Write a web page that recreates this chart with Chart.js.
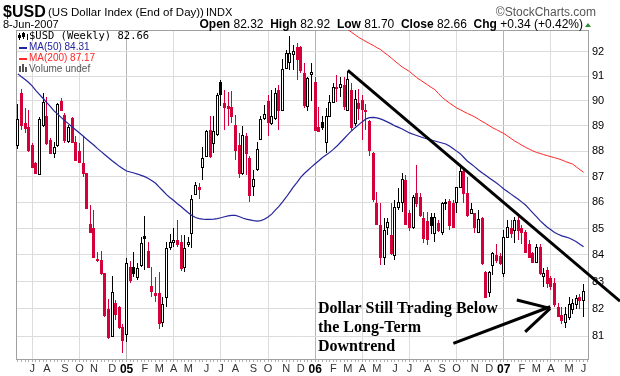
<!DOCTYPE html>
<html>
<head>
<meta charset="utf-8">
<script src="https://cdn.jsdelivr.net/npm/chart.js@4.4.0/dist/chart.umd.min.js"></script>
<style>
  html, body { margin: 0; padding: 0; background: #fff; }
  #wrap { width: 620px; height: 376px; }
</style>
</head>
<body>
<div id="wrap"><canvas id="chart" width="620" height="376"></canvas></div>
<script>
// weekly bars, first bar is the week ending Fri 11-Jun-2004, last is 8-Jun-2007
const firstWeek = [2004, 5, 11];

const opens = [
  88.25, 90.31, 89.11, 88.97, 88.25, 87.52, 87.10, 89.04, 89.38, 88.44,
  87.94, 88.25, 90.00, 89.44, 88.41, 89.31, 88.38, 88.00, 87.52, 87.13,
  85.19, 85.00, 83.86, 83.81, 83.31, 82.00, 81.00, 82.19, 82.07, 81.33,
  81.09, 83.56, 83.56, 83.18, 83.62, 84.70, 84.16, 82.84, 82.56, 82.56,
  81.52, 82.44, 84.31, 84.50, 84.56, 84.50, 83.56, 84.40, 84.81, 86.32,
  86.61, 87.39, 87.79, 88.84, 88.31, 88.68, 90.75, 89.90, 89.78, 89.75,
  89.04, 88.25, 87.13, 88.58, 87.72, 86.65, 87.28, 88.47, 89.31, 90.00,
  89.11, 89.31, 90.45, 89.62, 91.33, 91.60, 91.91, 92.22, 92.20, 91.15,
  89.80, 91.08, 90.78, 88.97, 89.14, 88.38, 89.40, 89.97, 90.58, 90.58,
  90.65, 89.62, 90.45, 89.11, 89.91, 90.02, 89.62, 89.21, 87.91, 85.99,
  85.13, 83.93, 85.07, 84.75, 84.00, 85.83, 86.00, 86.85, 85.60, 85.07,
  86.35, 86.22, 85.39, 85.30, 85.45, 84.81, 85.22, 84.88, 85.96, 86.06,
  85.99, 86.03, 86.61, 87.20, 86.35, 85.61, 85.61, 84.88, 85.39, 83.37,
  82.62, 83.62, 84.00, 83.96, 83.31, 84.69, 85.00, 84.94, 85.32, 85.00,
  84.88, 84.43, 84.06, 83.74, 84.31, 83.21, 83.43, 83.12, 82.93, 82.07,
  81.76, 81.52, 81.70, 82.00, 82.16, 82.44, 82.32
];
const highs = [
  89.88, 90.47, 89.71, 89.64, 88.31, 87.59, 89.35, 90.34, 90.18, 88.51,
  88.38, 89.93, 90.11, 89.51, 89.04, 89.35, 88.61, 88.31, 88.58, 87.16,
  85.90, 85.71, 84.12, 84.15, 83.33, 82.34, 83.21, 82.31, 82.09, 81.45,
  83.87, 83.77, 84.12, 83.68, 84.69, 85.48, 84.50, 83.56, 83.18, 83.37,
  82.44, 84.50, 84.78, 85.00, 85.32, 84.75, 84.75, 84.69, 86.28, 86.80,
  86.74, 88.18, 88.84, 89.40, 89.40, 90.31, 90.85, 90.45, 90.38, 90.40,
  89.44, 88.70, 89.00, 88.71, 87.79, 87.26, 88.38, 89.40, 89.84, 90.25,
  90.45, 90.51, 90.65, 91.73, 92.08, 92.66, 92.29, 92.36, 92.25, 91.53,
  90.98, 91.53, 90.98, 89.75, 89.40, 89.71, 90.25, 90.72, 91.05, 90.98,
  90.98, 91.23, 90.72, 90.45, 90.47, 90.25, 89.86, 89.24, 87.98, 86.41,
  85.96, 85.39, 85.39, 85.96, 86.09, 86.54, 87.13, 87.07, 85.70, 86.28,
  87.45, 86.35, 85.64, 85.64, 85.61, 85.61, 85.32, 86.03, 86.15, 86.15,
  86.09, 86.61, 87.39, 87.26, 86.97, 85.96, 85.61, 85.71, 85.45, 83.40,
  83.40, 84.12, 84.43, 84.06, 84.94, 85.32, 85.32, 85.45, 85.45, 85.13,
  84.94, 84.56, 84.12, 84.43, 84.40, 83.50, 83.56, 83.20, 83.12, 82.19,
  82.07, 82.07, 82.44, 82.34, 82.50, 82.55, 82.92
];
const lows = [
  88.07, 88.84, 88.71, 87.98, 87.36, 87.10, 87.07, 88.95, 88.25, 87.91,
  87.72, 88.18, 89.58, 88.31, 88.31, 88.31, 87.62, 87.52, 87.00, 85.74,
  84.81, 83.87, 83.74, 83.25, 81.70, 80.91, 80.97, 81.58, 81.27, 80.40,
  80.79, 82.93, 83.18, 83.06, 83.56, 83.43, 83.50, 82.44, 82.25, 81.27,
  81.33, 82.07, 84.18, 84.31, 84.30, 83.40, 83.37, 84.31, 84.25, 86.28,
  86.15, 86.87, 87.79, 87.72, 87.91, 88.61, 89.78, 88.84, 89.00, 89.10,
  87.65, 86.95, 87.07, 87.05, 86.03, 86.25, 87.20, 88.44, 89.24, 88.58,
  89.04, 89.24, 88.84, 89.58, 91.28, 91.25, 91.25, 90.85, 91.12, 89.71,
  89.58, 90.00, 88.78, 88.78, 88.84, 87.91, 89.35, 89.93, 89.97, 90.18,
  89.64, 89.58, 88.84, 89.00, 89.24, 88.44, 88.84, 87.79, 86.03, 85.13,
  83.62, 83.62, 84.75, 84.00, 83.81, 85.71, 85.64, 85.13, 84.90, 84.98,
  85.83, 85.45, 84.44, 84.37, 84.80, 84.50, 84.88, 84.75, 85.70, 84.94,
  85.00, 85.58, 86.54, 85.96, 85.45, 85.58, 84.81, 84.81, 83.62, 82.38,
  82.44, 83.25, 83.68, 83.62, 83.18, 84.63, 84.63, 84.44, 84.56, 84.40,
  84.06, 83.90, 83.68, 83.68, 83.25, 82.80, 82.75, 82.70, 82.07, 81.68,
  81.45, 81.30, 81.58, 81.79, 81.97, 82.00, 81.70
];
const closes = [
  89.27, 89.04, 88.91, 88.05, 87.39, 87.13, 89.27, 89.97, 88.31, 87.94,
  88.18, 89.88, 89.64, 88.44, 88.97, 88.38, 87.65, 87.59, 87.13, 85.77,
  84.88, 83.93, 83.80, 83.31, 81.76, 80.97, 82.62, 81.82, 81.33, 80.85,
  83.71, 83.06, 83.31, 83.50, 84.46, 84.64, 83.56, 82.66, 82.50, 81.49,
  82.16, 84.25, 84.50, 84.56, 84.40, 83.50, 84.25, 84.50, 86.15, 86.67,
  86.51, 87.72, 88.78, 87.79, 88.78, 90.25, 90.28, 89.75, 89.70, 89.38,
  88.05, 87.13, 88.64, 87.92, 86.28, 86.90, 88.07, 89.27, 89.47, 89.14,
  89.40, 90.31, 89.62, 91.28, 91.94, 91.96, 92.05, 91.69, 91.26, 89.84,
  90.92, 91.19, 88.84, 88.80, 88.97, 89.40, 89.97, 90.58, 90.51, 90.69,
  89.78, 90.88, 88.97, 90.07, 89.71, 89.68, 89.58, 88.05, 86.15, 85.19,
  83.93, 84.94, 85.26, 84.06, 85.83, 86.03, 86.90, 85.19, 85.05, 86.22,
  85.96, 85.51, 84.63, 84.60, 85.13, 85.45, 84.94, 85.99, 86.03, 85.13,
  85.07, 86.61, 87.20, 86.35, 85.51, 85.74, 85.07, 85.35, 83.68, 82.44,
  83.37, 84.09, 83.81, 83.68, 84.69, 85.07, 84.81, 85.32, 84.94, 84.88,
  84.12, 83.93, 83.74, 84.31, 83.31, 83.33, 82.93, 82.85, 82.16, 81.73,
  81.58, 81.79, 82.16, 82.20, 82.38, 82.32, 82.66
];

const ma50 = [
  91.10, 90.98, 90.87, 90.75, 90.60, 90.42, 90.26, 90.10, 89.93, 89.77,
  89.60, 89.47, 89.33, 89.20, 89.08, 88.96, 88.84, 88.72, 88.60, 88.47,
  88.35, 88.23, 88.10, 87.98, 87.86, 87.74, 87.62, 87.51, 87.40, 87.31,
  87.22, 87.18, 87.14, 87.10, 87.05, 87.00, 86.93, 86.84, 86.74, 86.59,
  86.45, 86.30, 86.18, 86.07, 85.95, 85.84, 85.72, 85.60, 85.50, 85.42,
  85.38, 85.36, 85.35, 85.35, 85.36, 85.38, 85.41, 85.45, 85.48, 85.50,
  85.50, 85.46, 85.40, 85.36, 85.33, 85.30, 85.28, 85.30, 85.35, 85.44,
  85.55, 85.70, 85.85, 86.02, 86.20, 86.40, 86.60, 86.78, 86.97, 87.12,
  87.25, 87.38, 87.50, 87.62, 87.75, 87.85, 87.95, 88.07, 88.20, 88.35,
  88.50, 88.65, 88.80, 88.93, 89.05, 89.17, 89.28, 89.33, 89.34, 89.32,
  89.28, 89.22, 89.15, 89.08, 89.00, 88.94, 88.88, 88.80, 88.72, 88.67,
  88.62, 88.57, 88.52, 88.48, 88.44, 88.40, 88.36, 88.32, 88.28, 88.20,
  88.10, 88.00, 87.90, 87.75, 87.60, 87.49, 87.38, 87.26, 87.15, 87.05,
  86.95, 86.85, 86.75, 86.64, 86.52, 86.42, 86.32, 86.22, 86.12, 86.01,
  85.90, 85.75, 85.60, 85.45, 85.30, 85.17, 85.05, 84.95, 84.85, 84.78,
  84.72, 84.68, 84.64, 84.57, 84.50, 84.40, 84.31
];
// MA(200) is above the chart until about week 91
const ma200Visible = [
  92.93, 92.82, 92.71, 92.60, 92.52, 92.43, 92.35, 92.27, 92.18, 92.10,
  91.98, 91.87, 91.75, 91.62, 91.50, 91.38, 91.29, 91.20, 91.07, 90.95,
  90.85, 90.75, 90.65, 90.55, 90.46, 90.30, 90.15, 90.03, 89.92, 89.82,
  89.72, 89.65, 89.57, 89.50, 89.43, 89.36, 89.27, 89.18, 89.10, 89.01,
  88.92, 88.85, 88.77, 88.70, 88.60, 88.50, 88.40, 88.32, 88.23, 88.15,
  88.08, 88.01, 87.95, 87.91, 87.86, 87.82, 87.78, 87.74, 87.70, 87.65,
  87.59, 87.54, 87.49, 87.38, 87.27, 87.17
];
const ma200 = new Array(closes.length - ma200Visible.length).fill(null).concat(ma200Visible);

const priceTicks = [81, 82, 83, 84, 85, 86, 87, 88, 89, 90, 91, 92];
const monthLetters = ['J', 'F', 'M', 'A', 'M', 'J', 'J', 'A', 'S', 'O', 'N', 'D'];

// hand drawn lines, in (week index, price)
const trendLine = [[91, 91.24], [146, 84.58]];
const arrowLines = [
  [[120.1, 80.73], [146.8, 82.07]],
  [[137.6, 82.32], [146.8, 82.01]],
  [[139.9, 81.15], [146.8, 82.01]]
];
const noteLines = ['Dollar Still Trading Below', 'the Long-Term', 'Downtrend'];

const RED = '#d4003a';
const BLUE = '#24249c';
const MA_RED = '#ff2626';

// one extra empty week on the right like the original
const weeks = [];
for (let i = 0; i <= closes.length; i++) {
  weeks.push(new Date(firstWeek[0], firstWeek[1], firstWeek[2] + 7 * i));
}
const labels = weeks.map(d => d.toISOString().slice(0, 10));

function mondayOf(d) {
  return new Date(d.getFullYear(), d.getMonth(), d.getDate() - 4);
}
const monthOf = weeks.map(d => mondayOf(d).getMonth());
const tickText = weeks.map((d, i) => {
  if (i === 0 || monthOf[i] === monthOf[i - 1]) return '';
  if (monthOf[i] === 0) return String(mondayOf(d).getFullYear() % 100).padStart(2, '0');
  return monthLetters[monthOf[i]];
});

const isUp = closes.map((c, i) => i === 0 || c >= closes[i - 1]);
const candleColor = isUp.map(u => u ? '#000' : RED);
const hollow = closes.map((c, i) => c > opens[i]);
const bodies = closes.map((c, i) => [Math.min(opens[i], c), Math.max(opens[i], c)]);
const wicks = closes.map((c, i) => [lows[i], highs[i]]);

// bars are laid out by chart.js; here they are only painted on whole pixels
const crispCandles = {
  id: 'crispCandles',
  beforeDatasetDraw(chart, args) {
    const meta = args.meta;
    if (meta.type !== 'bar') return;
    const kind = chart.data.datasets[args.index].label;
    const c = chart.ctx;
    c.save();
    meta.data.forEach((el, i) => {
      const p = el.getProps(['x', 'y', 'base'], true);
      if (p.y == null || isNaN(p.y)) return;
      const top = Math.round(Math.min(p.y, p.base));
      const h = Math.max(1, Math.round(Math.max(p.y, p.base)) - top);
      const cx = Math.round(p.x - 0.5);
      c.fillStyle = candleColor[i];
      if (kind === 'wick') {
        c.fillRect(cx, top, 1, h);
      } else {
        c.fillRect(cx - 1, top, 3, h + 1);
        if (hollow[i] && h > 1) {
          c.fillStyle = '#fff';
          c.fillRect(cx, top + 1, 1, h - 1);
        }
      }
    });
    c.restore();
    return false;
  }
};

const decor = {
  id: 'decor',
  beforeDatasetsDraw(chart) {
    const { ctx, chartArea: a } = chart;
    ctx.save();
    ctx.strokeStyle = '#a0a0a0';
    ctx.lineWidth = 1;
    ctx.strokeRect(Math.round(a.left) + 0.5, Math.round(a.top) + 0.5,
      Math.round(a.right - a.left) - 1, Math.round(a.bottom - a.top));
    ctx.restore();
  },
  afterDraw(chart) {
    const { ctx, chartArea: a, scales } = chart;
    const xs = scales.x, ys = scales.y;
    const pt = p => [xs.getPixelForValue(p[0]), ys.getPixelForValue(p[1])];
    ctx.save();

    // header
    ctx.fillStyle = '#000';
    ctx.textBaseline = 'alphabetic';
    ctx.font = 'bold 16px "Liberation Sans", Arial';
    ctx.fillText('$USD', 3, 17);
    ctx.font = '11.5px "Liberation Sans", Arial';
    ctx.fillText('(US Dollar Index (End of Day))', 48, 16);
    ctx.font = '11px "Liberation Sans", Arial';
    ctx.fillText('INDX', 206, 16);
    ctx.fillStyle = '#555';
    ctx.font = '12px "Liberation Sans", Arial';
    ctx.textAlign = 'right';
    ctx.fillText('\u00a9StockCharts.com', 596, 16);
    ctx.textAlign = 'left';
    ctx.fillStyle = '#000';
    ctx.font = '11px "Liberation Sans", Arial';
    ctx.fillText('8-Jun-2007', 3, 28);

    const stats = [['Open', ' 82.32  '], ['High', ' 82.92  '], ['Low', ' 81.70  '],
      ['Close', ' 82.66  '], ['Chg', ' +0.34 (+0.42%)']];
    const boldF = 'bold 12px "Liberation Sans", Arial';
    const normF = '12px "Liberation Sans", Arial';
    let w = 0;
    stats.forEach(s => {
      ctx.font = boldF; w += ctx.measureText(s[0]).width;
      ctx.font = normF; w += ctx.measureText(s[1]).width;
    });
    let x = 583 - w;
    stats.forEach(s => {
      ctx.font = boldF; ctx.fillText(s[0], x, 28); x += ctx.measureText(s[0]).width;
      ctx.font = normF; ctx.fillText(s[1], x, 28); x += ctx.measureText(s[1]).width;
    });
    ctx.fillStyle = '#2e8b2e';
    ctx.beginPath();
    ctx.moveTo(585, 27); ctx.lineTo(591, 27); ctx.lineTo(588, 23); ctx.closePath();
    ctx.fill();

    // legend
    ctx.fillStyle = '#000';
    ctx.fillRect(19, 33, 1, 7); ctx.fillRect(18, 35, 3, 3);
    ctx.fillRect(23, 32, 1, 7); ctx.fillRect(22, 33, 3, 4);
    ctx.fillRect(27, 34, 1, 6);
    ctx.textBaseline = 'middle';
    ctx.font = '10.5px "DejaVu Sans Mono", monospace';
    ctx.fillText('$USD (Weekly) 82.66', 29, 36.5);
    ctx.font = '10px "Liberation Sans", Arial';
    ctx.fillStyle = BLUE;
    ctx.fillRect(19, 47, 8, 2);
    ctx.fillText('MA(50) 84.31', 29, 47.5);
    ctx.fillStyle = MA_RED;
    ctx.fillRect(19, 58, 8, 2);
    ctx.fillText('MA(200) 87.17', 29, 58.5);
    ctx.fillStyle = '#555';
    ctx.fillRect(19, 66, 2, 6); ctx.fillRect(22, 64, 2, 8); ctx.fillRect(25, 67, 2, 5);
    ctx.fillText('Volume undef', 29, 69);

    // long-term trend line, extended to the right edge
    const p1 = pt(trendLine[0]), p2 = pt(trendLine[1]);
    const xEnd = chart.width;
    const yEnd = p1[1] + (p2[1] - p1[1]) * (xEnd - p1[0]) / (p2[0] - p1[0]);
    ctx.strokeStyle = '#000';
    ctx.lineWidth = 3;
    ctx.beginPath();
    ctx.moveTo(p1[0], p1[1]); ctx.lineTo(xEnd, yEnd);
    ctx.stroke();

    arrowLines.forEach(l => {
      const s = pt(l[0]), e = pt(l[1]);
      ctx.beginPath(); ctx.moveTo(s[0], s[1]); ctx.lineTo(e[0], e[1]); ctx.stroke();
    });

    // note
    ctx.fillStyle = '#000';
    ctx.textBaseline = 'alphabetic';
    ctx.font = 'bold 16px "Liberation Serif", "Times New Roman", serif';
    noteLines.forEach((t, i) => ctx.fillText(t, a.left + 302, 313 + 19 * i));
    ctx.restore();
  }
};

const ctx = document.getElementById('chart');
const chart = new Chart(ctx, {
  type: 'bar',
  data: {
    labels: labels,
    datasets: [
      {
        type: 'line', label: 'MA(50)', data: ma50, borderColor: BLUE,
        borderWidth: 1.2, pointRadius: 0, tension: 0, order: 0
      },
      {
        type: 'line', label: 'MA(200)', data: ma200, borderColor: MA_RED,
        borderWidth: 1, pointRadius: 0, tension: 0, order: 0
      },
      {
        label: 'body', data: bodies, backgroundColor: candleColor, borderColor: candleColor,
        borderWidth: 1, borderSkipped: false, barThickness: 3, minBarLength: 1,
        grouped: false, order: 1
      },
      {
        label: 'wick', data: wicks, backgroundColor: candleColor,
        borderWidth: 0, barThickness: 1, grouped: false, order: 2
      }
    ]
  },
  options: {
    responsive: false,
    animation: false,
    layout: { padding: { left: 16, top: 30, right: 0, bottom: 0 } },
    plugins: { legend: { display: false }, tooltip: { enabled: false } },
    scales: {
      x: {
        type: 'category',
        offset: true,
        border: { display: false },
        grid: {
          offset: false,
          drawTicks: true,
          tickLength: 3,
          tickColor: '#b0b0b0',
          color: c => {
            if (!tickText[c.index]) return 'rgba(0,0,0,0)';
            const m = monthOf[c.index];
            if (m === 0) return '#b4b4b4';
            return m % 3 === 0 ? '#dcdcdc' : 'rgba(0,0,0,0)';
          }
        },
        ticks: {
          autoSkip: false,
          maxRotation: 0,
          minRotation: 0,
          padding: 0,
          callback: (v, i) => tickText[i],
          color: c => monthOf[c.index] === 0 ? '#000' : '#333',
          font: c => monthOf[c.index] === 0
            ? { family: '"Liberation Sans", Arial', size: 12, weight: 'bold' }
            : { family: '"Liberation Sans", Arial', size: 11 }
        },
        afterFit: s => { s.height = 17; }
      },
      y: {
        type: 'logarithmic',
        position: 'right',
        min: 80.17,
        max: 92.91,
        border: { display: false },
        grid: { color: '#dcdcdc', drawTicks: false },
        afterBuildTicks: s => { s.ticks = priceTicks.map(v => ({ value: v })); },
        ticks: {
          padding: 3,
          color: '#000',
          font: { family: '"Liberation Sans", Arial', size: 11 },
          callback: v => String(v)
        },
        afterFit: s => { s.width = 31; }
      }
    }
  },
  plugins: [crispCandles, decor]
});
</script>
</body>
</html>
